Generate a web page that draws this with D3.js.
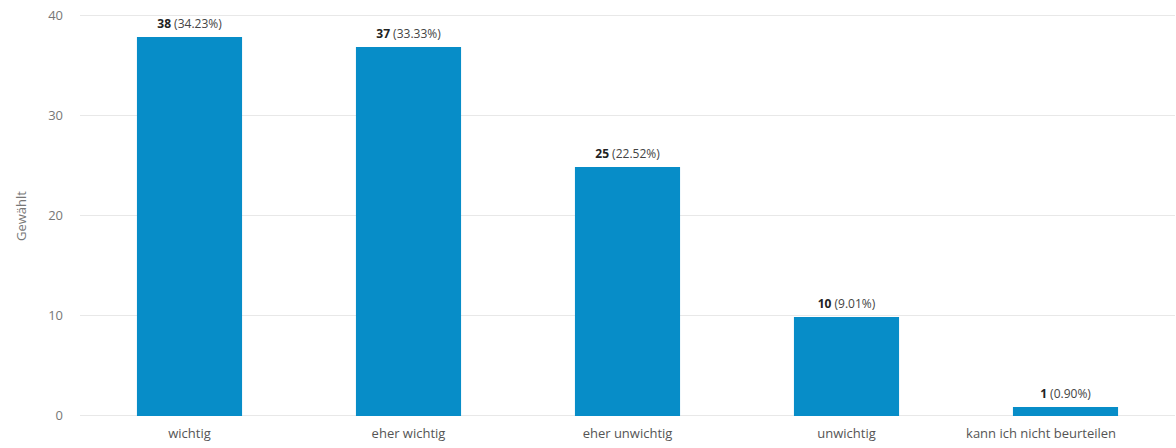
<!DOCTYPE html>
<html>
<head>
<meta charset="utf-8">
<script src="https://cdn.jsdelivr.net/npm/d3@7"></script>
<style>
  html, body { margin: 0; padding: 0; background: #fff; }
  svg { display: block; font-family: "Open Sans", sans-serif; }
</style>
</head>
<body>
<svg id="chart" width="1176" height="448"></svg>
<script>
const categories = ["wichtig", "eher wichtig", "eher unwichtig", "unwichtig", "kann ich nicht beurteilen"];
const counts = [38, 37, 25, 10, 1];
const percents = ["34.23%", "33.33%", "22.52%", "9.01%", "0.90%"];
const yTicks = [0, 10, 20, 30, 40];
const yTitle = "Gewählt";

const svg = d3.select("#chart");
const mLeft = 80, mRight = 1175, mTop = 16, mBottom = 416;

const x = d3.scaleBand().domain(categories).range([mLeft, mRight])
  .paddingInner(0.52).paddingOuter(0.26);
const y = d3.scaleLinear().domain([0, 40]).range([mBottom, mTop]);

// grid
svg.append("g").selectAll("line").data(yTicks).join("line")
  .attr("x1", mLeft).attr("x2", mRight)
  .attr("y1", d => Math.round(y(d)) - 0.5).attr("y2", d => Math.round(y(d)) - 0.5)
  .attr("stroke", "#e8e8e8").attr("stroke-width", 1);

// y axis labels
const yAxis = d3.axisLeft(y).tickValues(yTicks).tickSize(0).tickPadding(0);
const yg = svg.append("g").attr("transform", `translate(63,0)`).call(yAxis);
yg.select(".domain").remove();
yg.selectAll("text").attr("fill", "#777").attr("font-size", 13)
  .attr("font-family", "Open Sans, sans-serif").attr("dy", "0.3em");

// y title
svg.append("text").attr("transform", `translate(26,${(mTop + mBottom) / 2}) rotate(-90)`)
  .attr("text-anchor", "middle").attr("fill", "#777").attr("font-size", 13).text(yTitle);

// bars
svg.append("g").selectAll("rect").data(counts).join("rect")
  .attr("x", (d, i) => x(categories[i]))
  .attr("width", x.bandwidth())
  .attr("y", d => y(d) + 1)
  .attr("height", d => y(0) - y(d) - 1)
  .attr("fill", "#078dc8");

// value labels
const lbl = svg.append("g").selectAll("text").data(counts).join("text")
  .attr("x", (d, i) => x(categories[i]) + x.bandwidth() / 2)
  .attr("y", d => y(d) - 8)
  .attr("text-anchor", "middle").attr("font-size", 12).attr("fill", "#222");
lbl.append("tspan").attr("font-weight", "bold").text(d => d);
lbl.append("tspan").attr("fill", "#444").text((d, i) => " (" + percents[i] + ")");

// x axis labels
const xAxis = d3.axisBottom(x).tickSize(0).tickPadding(0);
const xg = svg.append("g").attr("transform", `translate(0,${mBottom})`).call(xAxis);
xg.select(".domain").remove();
xg.selectAll("text").attr("fill", "#555").attr("font-size", 13)
  .attr("font-family", "Open Sans, sans-serif").attr("dy", "22");
// last label is pulled inside the plot like the reference
xg.selectAll(".tick").filter((d, i, n) => i === n.length - 1).select("text")
  .attr("text-anchor", "end").attr("x", x.bandwidth() / 2 - 2);
</script>
</body>
</html>
